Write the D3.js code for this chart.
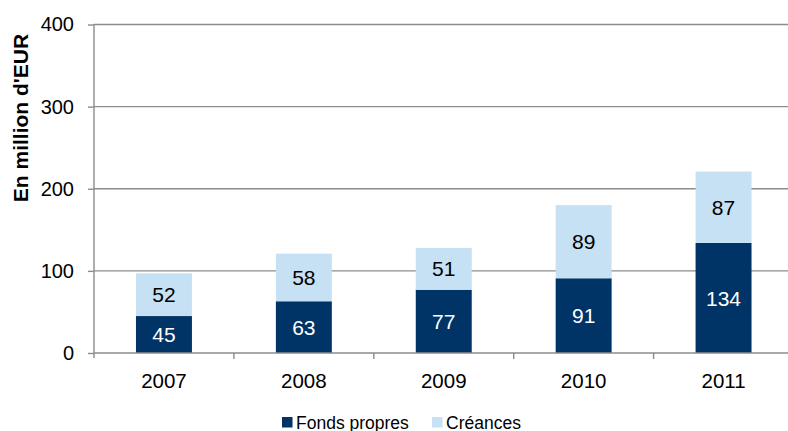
<!DOCTYPE html>
<html>
<head>
<meta charset="utf-8">
<script src="https://cdn.jsdelivr.net/npm/d3@7/dist/d3.min.js"></script>
<style>
  html, body { margin: 0; padding: 0; background: #fff; }
  svg { display: block; font-family: "Liberation Sans", Arial, sans-serif; }
</style>
</head>
<body>
<svg id="chart" width="788" height="431"></svg>
<script>
// Financing by year, in million EUR
const years = ["2007", "2008", "2009", "2010", "2011"];
const fondsPropres = [45, 63, 77, 91, 134];
const creances = [52, 58, 51, 89, 87];
const yTicks = [0, 100, 200, 300, 400];
const seriesNames = ["Fonds propres", "Créances"];
const seriesColors = ["#003366", "#C6E0F4"];
const labelColors = ["#ffffff", "#000000"];

const svg = d3.select("#chart");
const plotLeft = 94, plotRight = 793.5, plotTop = 24.5, plotBottom = 353;

const x = d3.scaleBand().domain(years).range([plotLeft, plotRight])
  .paddingInner(0.6).paddingOuter(0.3);
const y = d3.scaleLinear().domain([0, 400]).range([plotBottom, plotTop]);

const rows = years.map((yr, i) => ({ year: yr, "Fonds propres": fondsPropres[i], "Créances": creances[i] }));
const stacked = d3.stack().keys(seriesNames)(rows);

// Horizontal gridlines
svg.append("g").selectAll("line").data(yTicks.filter(t => t > 0)).join("line")
  .attr("x1", plotLeft).attr("x2", 788)
  .attr("y1", d => y(d)).attr("y2", d => y(d))
  .attr("stroke", "#8c8c8c").attr("stroke-width", 1.4);

// Y axis
const yAxis = svg.append("g").attr("transform", `translate(${plotLeft},0)`)
  .call(d3.axisLeft(y).tickValues(yTicks).tickSize(6).tickPadding(14));
yAxis.select(".domain").attr("stroke", "#8c8c8c").attr("stroke-width", 1.4)
  .attr("d", `M0,${plotTop}V${plotBottom + 5}`);
yAxis.selectAll(".tick line").attr("stroke", "#8c8c8c").attr("stroke-width", 1.4);
yAxis.selectAll(".tick text").attr("font-size", 20).attr("fill", "#000")
  .attr("font-family", "Liberation Sans, Arial, sans-serif");

// Y axis title
svg.append("text")
  .attr("transform", "translate(28,118) rotate(-90)")
  .attr("text-anchor", "middle")
  .attr("font-size", 21).attr("font-weight", "bold").attr("fill", "#000")
  .text("En million d'EUR");

// Stacked bars
const groups = svg.append("g").selectAll("g").data(stacked).join("g")
  .attr("fill", (d, i) => seriesColors[i]);
groups.selectAll("rect").data(d => d).join("rect")
  .attr("x", d => x(d.data.year))
  .attr("width", x.bandwidth())
  .attr("y", d => y(d[1]))
  .attr("height", d => y(d[0]) - y(d[1]));

// Value labels
stacked.forEach((s, si) => {
  svg.append("g").selectAll("text").data(s).join("text")
    .attr("x", d => x(d.data.year) + x.bandwidth() / 2)
    .attr("y", d => (y(d[0]) + y(d[1])) / 2)
    .attr("dy", "0.36em")
    .attr("text-anchor", "middle")
    .attr("font-size", 21)
    .attr("fill", labelColors[si])
    .text(d => d[1] - d[0]);
});

// X axis baseline with ticks at category boundaries
const step = x.step();
const xg = svg.append("g");
xg.append("line").attr("x1", plotLeft).attr("x2", 788)
  .attr("y1", plotBottom).attr("y2", plotBottom)
  .attr("stroke", "#8c8c8c").attr("stroke-width", 1.4);
xg.selectAll("line.tk").data(years.slice(1)).join("line").attr("class", "tk")
  .attr("x1", d => x(d) - step * 0.3).attr("x2", d => x(d) - step * 0.3)
  .attr("y1", plotBottom).attr("y2", plotBottom + 6)
  .attr("stroke", "#8c8c8c").attr("stroke-width", 1.4);
xg.selectAll("text").data(years).join("text")
  .attr("x", d => x(d) + x.bandwidth() / 2)
  .attr("y", 388)
  .attr("text-anchor", "middle")
  .attr("font-size", 20.5).attr("fill", "#000")
  .text(d => d);

// Legend
const legendX = [282, 432];
const lg = svg.append("g").selectAll("g").data(seriesNames).join("g")
  .attr("transform", (d, i) => `translate(${legendX[i]},417)`);
lg.append("rect").attr("width", 10.5).attr("height", 10.5)
  .attr("fill", (d, i) => seriesColors[i]);
lg.append("text").attr("x", 14).attr("y", 11.5)
  .attr("font-size", 17.5).attr("fill", "#000").text(d => d);
</script>
</body>
</html>
